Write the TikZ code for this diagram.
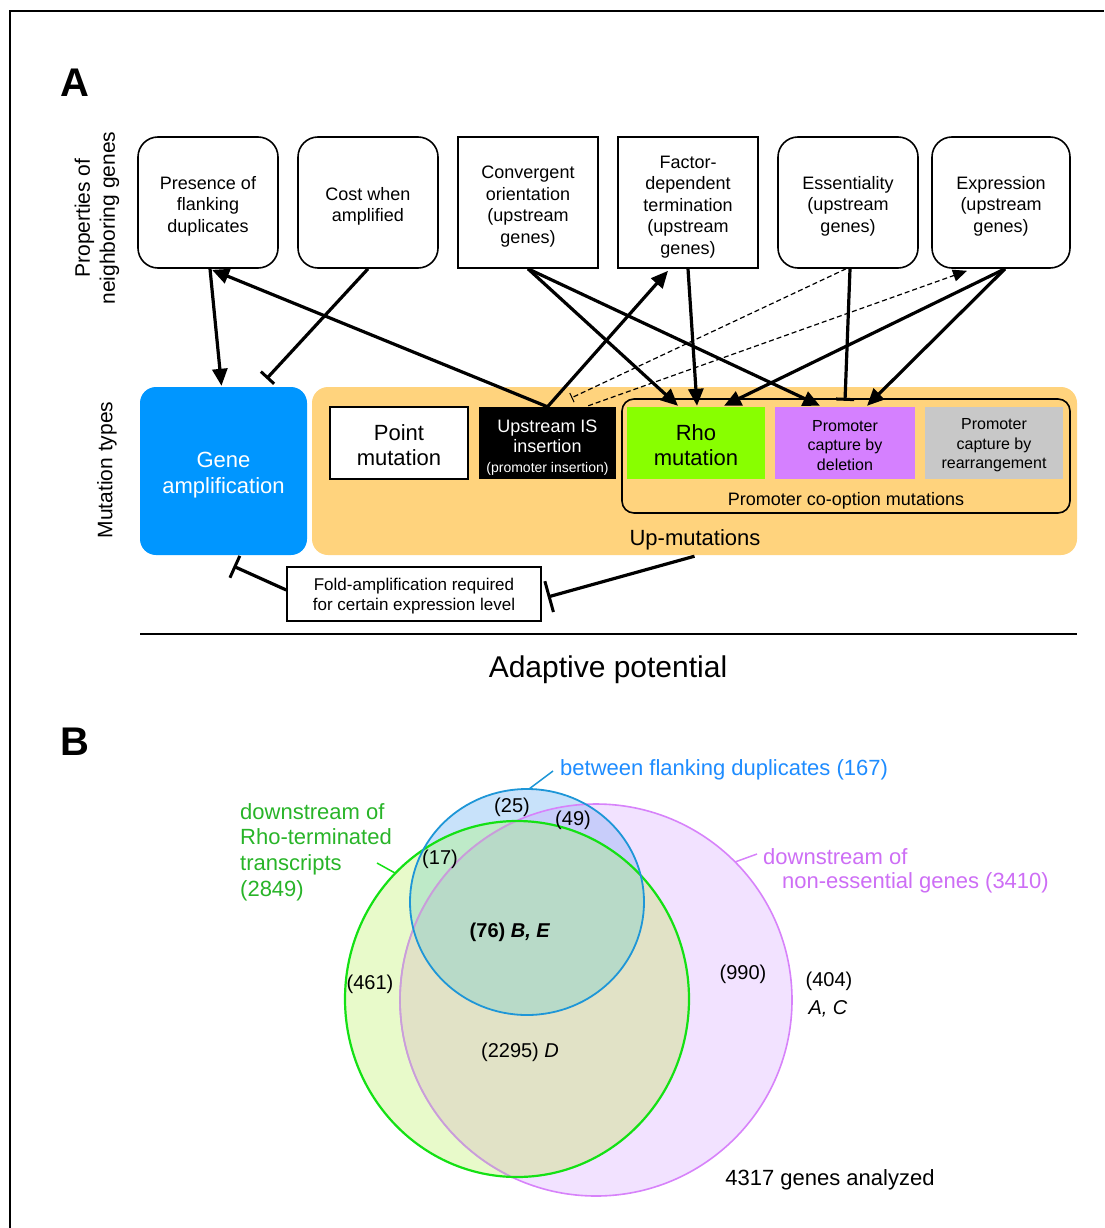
\documentclass[tikz,border=0pt]{standalone}
\usepackage{fontspec}
\setmainfont{Liberation Sans}
\usetikzlibrary{arrows.meta,calc}
\definecolor{ampblue}{RGB}{0,150,255}
\definecolor{upcol}{RGB}{255,211,125}
\definecolor{rhogreen}{RGB}{136,255,0}
\definecolor{delviolet}{RGB}{213,128,255}
\definecolor{reargray}{RGB}{200,200,200}
\definecolor{ponly}{RGB}{242,226,255}
\definecolor{gonly}{RGB}{232,250,202}
\definecolor{gpcol}{RGB}{225,226,198}
\definecolor{bonly}{RGB}{200,226,250}
\definecolor{bgcol}{RGB}{190,234,200}
\definecolor{bpcol}{RGB}{200,205,250}
\definecolor{bgpcol}{RGB}{184,218,200}
\definecolor{pstr}{RGB}{215,130,250}
\definecolor{pinner}{RGB}{200,160,215}
\definecolor{gstr}{RGB}{20,225,20}
\definecolor{bstr}{RGB}{30,150,215}
\definecolor{btxt}{RGB}{30,140,255}
\definecolor{gtxt}{RGB}{40,180,40}
\definecolor{ptxt}{RGB}{205,110,245}
\newcommand\fs[2]{\fontsize{#1}{#2}\selectfont}
\newcommand\dnr[1]{\rule{0pt}{#1pt}}
\begin{document}
\begin{tikzpicture}[x=1pt,y=-1pt,
  topbox/.style={draw, line width=1.6, minimum width=140, minimum height=131, align=center, font=\fs{18}{21.5}, inner sep=0},
  rbox/.style={topbox, rounded corners=20},
  mbox/.style={minimum width=138, minimum height=72, align=center, inner sep=0, font=\fs{22}{25}},
  arr/.style={line width=3.2, -{Triangle[length=17pt,width=15pt]}},
  inh/.style={line width=3.2, -{Bar[width=18pt,line width=3pt]}},
  dsh/.style={line width=1.2, dash pattern=on 5pt off 3pt},
  num/.style={font=\fs{20}{24}, inner sep=0},
  vlbl/.style={font=\fs{22}{25.7}, inner sep=0, anchor=west, align=left}
]
\useasboundingbox (0,0) rectangle (1104,1228);
\draw[line width=1.2] (10,1228) -- (10,11) -- (1104,11);

% panel labels
\node[font=\fs{40}{44}\bfseries] (labA) at (75,83) {A};
\node[font=\fs{40}{44}\bfseries] (labB) at (75,742) {B};
\node[rotate=90, font=\fs{21}{25}, align=center] (proplbl) at (97,218) {Properties of\\neighboring genes};
\node[rotate=90, font=\fs{21}{25}] (mutlbl) at (107,470) {Mutation types};

% top boxes
\node[rbox] (pres) at (208,202.5) {\dnr{20}Presence of\\flanking\\duplicates};
\node[rbox] (cost) at (368,202.5) {\dnr{21}Cost when\\amplified};
\node[topbox] (conv) at (528,202.5) {\dnr{21}Convergent\\orientation\\(upstream\\genes)};
\node[topbox] (fact) at (688,202.5) {\dnr{21}Factor-\\dependent\\termination\\(upstream\\genes)};
\node[rbox] (ess) at (848,202.5) {\dnr{20}Essentiality\\(upstream\\genes)};
\node[rbox, minimum width=138] (expr) at (1001,202.5) {\dnr{20}Expression\\(upstream\\genes)};

% mutation types
\node[fill=upcol, rounded corners=16, minimum width=765, minimum height=168, inner sep=0] (up) at (694.5,471) {};
\node[font=\fs{22}{26}] (uplbl) at (695,540) {Up-mutations};
\node[fill=ampblue, rounded corners=16, minimum width=167, minimum height=168, inner sep=0, text=white, font=\fs{22}{26}, align=center] (amp) at (223.5,471) {\dnr{24}Gene\\amplification};
\node[draw, line width=1.6, rounded corners=12, minimum width=448, minimum height=114, inner sep=0] (coopt) at (846,456) {};
\node[font=\fs{18}{22}] (cooptlbl) at (846,501) {Promoter co-option mutations};
\node[mbox, fill=white, draw, line width=1.6] (point) at (399,443) {\dnr{20}Point\\mutation};
\node[mbox, minimum width=137, fill=black, text=white, font=\fs{18}{20}] (isins) at (547.5,443) {\dnr{21}Upstream IS\\insertion\\{\fs{14}{16}(promoter insertion)}};
\node[mbox, fill=rhogreen] (rho) at (696,443) {\dnr{20}Rho\\mutation};
\node[mbox, minimum width=140, fill=delviolet, font=\fs{16}{19.5}] (del) at (845,443) {\dnr{16}Promoter\\capture by\\deletion};
\node[mbox, fill=reargray, font=\fs{16}{19.5}] (rear) at (994,443) {\dnr{16}Promoter\\capture by\\rearrangement};

\node[draw, fill=white, line width=1.4, minimum width=254, minimum height=54, inner sep=0, align=center, font=\fs{17}{20.5}] (fold) at (414,594) {\dnr{16.5}Fold-amplification required\\for certain expression level};

\coordinate (sepL) at (140,634);
\coordinate (sepR) at (1077,634);
\draw[line width=1.4] (sepL) -- (sepR);
\node[font=\fs{30}{34}] (adapt) at (608,670) {Adaptive potential};

% connectors
\draw[arr] ($(pres.south)+(2,0)$) -- ($(amp.north)+(-2,-1)$);
\draw[arr] (isins.north) -- ($(pres.south)+(4,1)$);
\draw[inh] (cost.south) -- ($(amp.north)+(43,-8)$);
\draw[arr] (conv.south) -- ($(rho.north)+(-18,-1)$);
\draw[arr] (conv.south) -- ($(del.north)+(-25,-1)$);
\draw[arr] (isins.north) -- ($(fact.south)+(-20,2)$);
\draw[arr] (fact.south) -- ($(rho.north)+(1,-1)$);
\draw[inh] ($(ess.south)+(2,0)$) -- ($(del.north)+(0,-6)$);
\draw[arr] ($(expr.south)+(4,0)$) -- ($(rho.north)+(28,-1)$);
\draw[arr] ($(expr.south)+(4,0)$) -- ($(del.north)+(22,-1)$);
\draw[dsh, -{Bar[width=10pt,line width=1pt]}] ($(ess.south)+(-2,0)$) -- ($(isins.north)+(24,-9)$);
\draw[dsh, -{Triangle[length=14pt,width=12pt]}] ($(isins.north east)+(-28,-1)$) -- ($(expr.south)+(-34,2)$);
\draw[inh, -{Bar[width=32pt,line width=3pt]}] ($(up.south)+(0,1)$) -- ($(fold.east)+(6,3)$);
\draw[inh, -{Bar[width=24pt,line width=3pt]}] ($(fold.west)+(0,-4)$) -- ($(amp.south)+(10,11)$);

% Venn
\coordinate (pc) at (596,1000);
\coordinate (gc) at (517,999);
\coordinate (bc) at (527,902);
\fill[ponly] (pc) circle[radius=196];
\fill[gonly] (gc) ellipse[x radius=172, y radius=178];
\begin{scope}
  \clip (gc) ellipse[x radius=172, y radius=178];
  \fill[gpcol] (pc) circle[radius=196];
\end{scope}
\fill[bonly] (bc) ellipse[x radius=117, y radius=113];
\begin{scope}
  \clip (bc) ellipse[x radius=117, y radius=113];
  \fill[bgcol] (gc) ellipse[x radius=172, y radius=178];
  \fill[bpcol] (pc) circle[radius=196];
  \clip (gc) ellipse[x radius=172, y radius=178];
  \fill[bgpcol] (pc) circle[radius=196];
\end{scope}
\draw[pstr, line width=1.6] (pc) circle[radius=196];
\begin{scope}
  \clip (gc) ellipse[x radius=172, y radius=178];
  \draw[pinner, line width=1.6] (pc) circle[radius=196];
\end{scope}
\draw[gstr, line width=2.2] (gc) ellipse[x radius=172, y radius=178];
\draw[bstr, line width=1.8] (bc) ellipse[x radius=117, y radius=113];

% Venn labels
\node[vlbl, text=btxt] (blbl) at (560,770) {between flanking duplicates (167)};
\coordinate (bt) at (529,789);
\coordinate (bl) at (553,771);
\draw[bstr, line width=1.5] (bt) -- (bl);
\node[vlbl, text=gtxt] (glbl) at (240,852) {downstream of\\Rho-terminated\\transcripts\\(2849)};
\coordinate (gt) at (395,873);
\coordinate (gl) at (377,863);
\draw[gstr, line width=1.5] (gl) -- (gt);
\node[vlbl, text=ptxt] (plbl1) at (763,857) {downstream of};
\node[vlbl, text=ptxt] (plbl2) at (782,883) {non-essential genes (3410)};
\coordinate (pt) at (735,862);
\coordinate (pl) at (757,854);
\draw[pstr, line width=1.5] (pt) -- (pl);

\node[num] (n25) at (512,807) {(25)};
\node[num] (n49) at (573,820) {(49)};
\node[num] (n17) at (440,859) {(17)};
\node[num] (n76) at (510,932) {\bfseries (76) \textit{B, E}};
\node[num] (n461) at (370,984) {(461)};
\node[num] (n990) at (743,974) {(990)};
\node[num] (n404) at (829,981) {(404)};
\node[num] (nac) at (828,1009) {\textit{A, C}};
\node[num] (n2295) at (520,1052) {(2295)~\textit{D}};
\node[font=\fs{22}{26}, inner sep=0] (tot) at (830,1180) {4317 genes analyzed};
\end{tikzpicture}
\end{document}
